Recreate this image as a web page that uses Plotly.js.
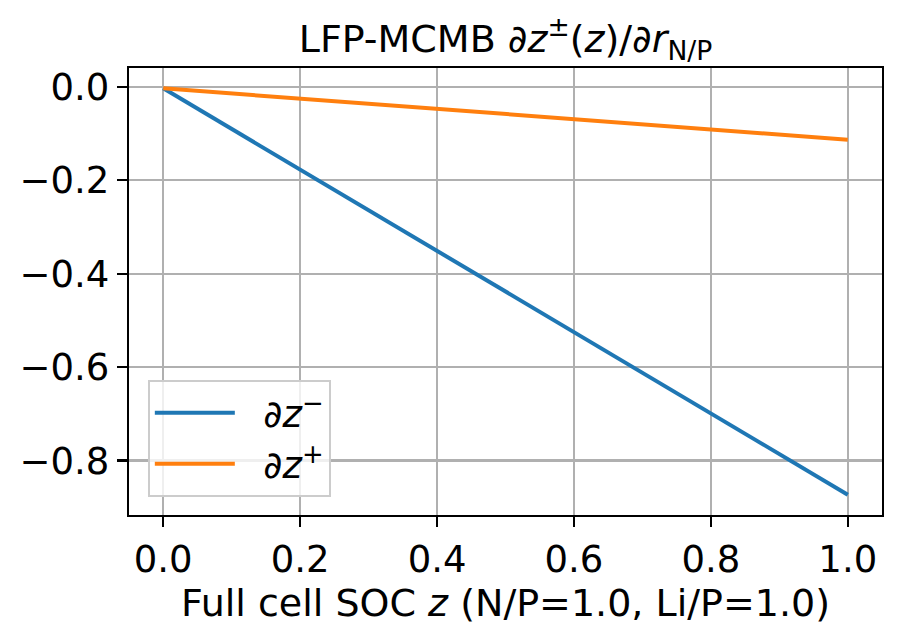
<!DOCTYPE html>
<html>
<head>
<meta charset="utf-8">
<script src="https://cdn.plot.ly/plotly-3.0.1.min.js"></script>
<style>
  body { margin: 0; padding: 0; background: #fff; }
  #myDiv { width: 901px; height: 638px; }
</style>
</head>
<body>
<div id="myDiv"></div>
<script>
// full cell SOC z
let soc = [0.0, 0.2, 0.4, 0.6, 0.8, 1.0];
// d z- / d r_N/P  (blue)
let dzMinus = [-0.003, -0.177, -0.351, -0.525, -0.699, -0.873];
// d z+ / d r_N/P  (orange)
let dzPlus = [-0.003, -0.025, -0.047, -0.069, -0.091, -0.113];

let xTicks = [0.0, 0.2, 0.4, 0.6, 0.8, 1.0];
let yTicks = [-0.8, -0.6, -0.4, -0.2, 0.0];

let font = 'DejaVu Sans, sans-serif';

let trace_minus = {
  x: soc, y: dzMinus, mode: 'lines', type: 'scatter',
  name: '\u00a0\u00a0∂<i>z</i><sup>−</sup>',
  line: {color: '#1f77b4', width: 4}
};
let trace_plus = {
  x: soc, y: dzPlus, mode: 'lines', type: 'scatter',
  name: '\u00a0\u00a0∂<i>z</i><sup>+</sup>',
  line: {color: '#ff7f0e', width: 4}
};

let axisCommon = {
  showline: true, linecolor: '#000', linewidth: 2.2, mirror: true,
  showgrid: true, gridcolor: '#b0b0b0', gridwidth: 2.2,
  zeroline: false,
  ticks: 'outside', ticklen: 10, tickwidth: 2.2, tickcolor: '#000',
  tickfont: {family: font, size: 37, color: '#000'},
  tickformat: '.1f'
};

let layout = {
  width: 901, height: 638,
  paper_bgcolor: '#fff', plot_bgcolor: '#fff',
  margin: {l: 129, r: 19, t: 68, b: 123},
  font: {family: font, color: '#000'},
  title: {
    text: 'LFP-MCMB ∂<i>z</i><sup>±</sup>(<i>z</i>)/∂<i>r</i><sub>N/P</sub>',
    font: {family: font, size: 38, color: '#000'},
    x: 0.5, xanchor: 'center', xref: 'paper',
    y: 1 - 39 / 638, yanchor: 'middle', yref: 'container'
  },
  xaxis: Object.assign({}, axisCommon, {
    range: [-0.05, 1.05], tickvals: xTicks,
    title: {text: 'Full cell SOC <i>z</i> (N/P=1.0, Li/P=1.0)', font: {family: font, size: 38, color: '#000'}, standoff: 8}
  }),
  yaxis: Object.assign({}, axisCommon, {
    range: [-0.9165, 0.0405], tickvals: yTicks
  }),
  showlegend: true,
  legend: {
    x: 0.025, y: 0.04, xanchor: 'left', yanchor: 'bottom',
    bgcolor: 'rgba(255,255,255,0.8)', bordercolor: '#cccccc', borderwidth: 2,
    font: {family: font, size: 37, color: '#000'},
    itemwidth: 80,
    traceorder: 'normal'
  }
};

Plotly.newPlot('myDiv', [trace_minus, trace_plus], layout, {displayModeBar: false, staticPlot: true});
</script>
</body>
</html>
